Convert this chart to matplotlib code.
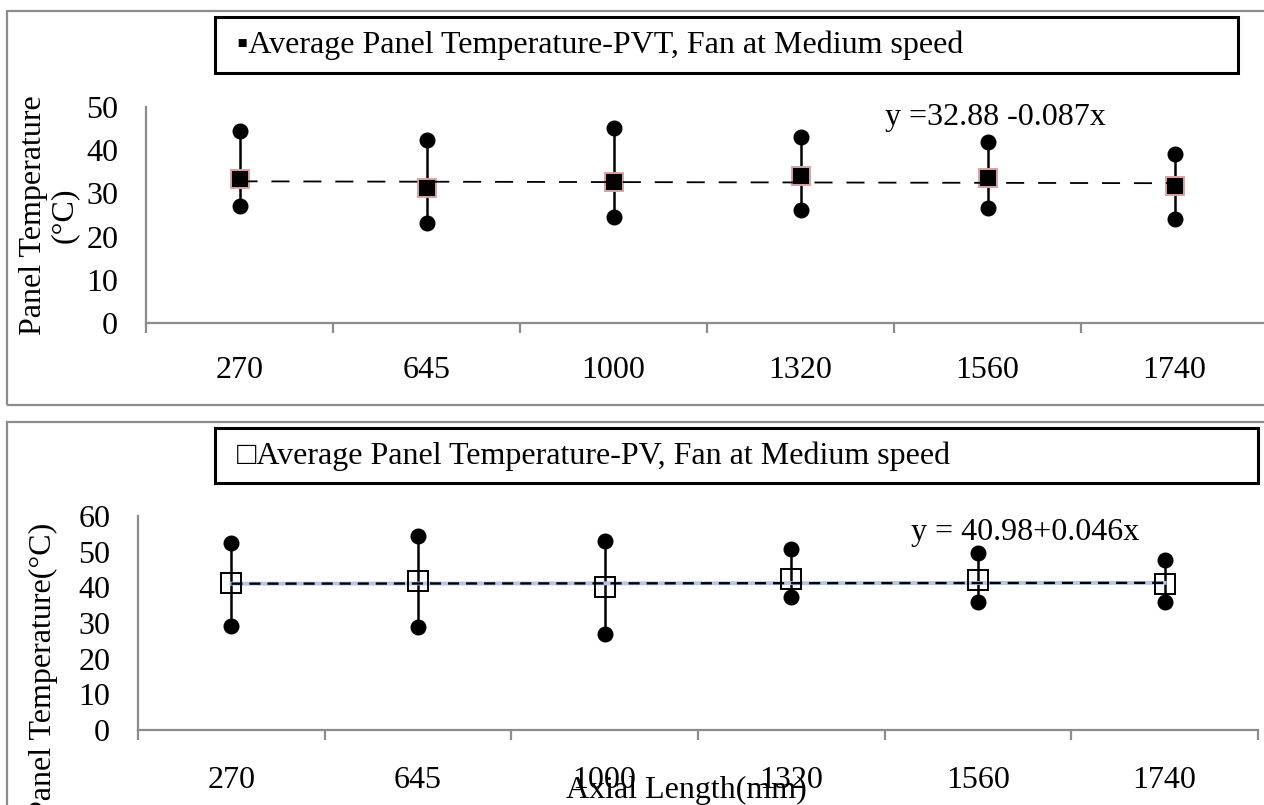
import matplotlib
matplotlib.use("Agg")
import matplotlib.pyplot as plt
from matplotlib.patches import Rectangle

plt.rcParams['font.family'] = ['Liberation Serif', 'DejaVu Serif', 'DejaVu Sans']
plt.rcParams['lines.scale_dashes'] = False

# ---------------- data ----------------
categories = ['270', '645', '1000', '1320', '1560', '1740']

pvt_avg = [33.3, 31.3, 32.7, 34.0, 33.5, 31.6]
pvt_max = [44.4, 42.4, 45.1, 43.1, 42.0, 39.1]
pvt_min = [27.1, 23.2, 24.6, 26.2, 26.7, 24.1]

pv_avg = [41.1, 41.8, 40.2, 42.3, 42.0, 40.8]
pv_max = [52.5, 54.4, 53.0, 50.7, 49.5, 47.7]
pv_min = [29.2, 28.8, 26.8, 37.2, 35.9, 35.9]

pvt_trend = (32.88, -0.087)   # intercept, slope (x = point number 1..6)
pv_trend = (40.98, 0.046)

pvt_label = "\u25aaAverage Panel Temperature-PVT, Fan at Medium speed"
pv_label = "\u25a1Average Panel Temperature-PV, Fan at Medium speed"
pvt_eq = "y =32.88 -0.087x"
pv_eq = "y = 40.98+0.046x"

W, H = 1264, 805
fig = plt.figure(figsize=(W / 100, H / 100), dpi=100)

GRAY = '#8c8c8c'
FS = 23


def fx(px):
    return px / W


def fy(py):
    return 1 - py / H


def frame(x0, y0, x1, y1, color, lw):
    r = Rectangle((fx(x0), fy(y1)), fx(x1) - fx(x0), fy(y0) - fy(y1),
                  transform=fig.transFigure, fill=False, edgecolor=color,
                  linewidth=lw, clip_on=False)
    fig.add_artist(r)


# outer chart frames
frame(7, 11, 1275, 405, GRAY, 1.6)
frame(7, 422, 1275, 820, GRAY, 1.6)
# legend boxes
frame(215, 17, 1238, 73, 'black', 2.2)
frame(215, 428, 1258, 483, 'black', 2.2)
fig.text(fx(237), fy(45), pvt_label, fontsize=FS, ha='left', va='center')
fig.text(fx(237), fy(456), pv_label, fontsize=FS, ha='left', va='center')


def make_axes(rect, ymax, step, xpad):
    ax = fig.add_axes(rect)
    ax.set_facecolor('none')
    for s in ['top', 'right']:
        ax.spines[s].set_visible(False)
    for s in ['left', 'bottom']:
        ax.spines[s].set_color(GRAY)
        ax.spines[s].set_linewidth(1.6)
    ax.set_xlim(-0.5, 5.5)
    ax.set_ylim(0, ymax)
    ax.set_xticks(range(len(categories)))
    ax.set_xticklabels(categories)
    ax.set_xticks([i - 0.5 for i in range(len(categories) + 1)], minor=True)
    ax.tick_params(axis='x', which='major', length=0, labelsize=FS, pad=xpad)
    ax.tick_params(axis='x', which='minor', length=7, width=1.6, color=GRAY, direction='out')
    ax.set_yticks(range(0, ymax + 1, step))
    ax.tick_params(axis='y', length=0, labelsize=FS, pad=20)
    return ax


def plot_range(ax, avg, mx, mn, trend, top):
    xs = list(range(len(categories)))
    for i in xs:
        ax.plot([i, i], [mn[i], mx[i]], color='black', lw=1.8, zorder=3)
    ax.plot(xs, mx, 'o', ls='none', color='black', ms=10.5, zorder=4, clip_on=False)
    ax.plot(xs, mn, 'o', ls='none', color='black', ms=10.5, zorder=4, clip_on=False)
    a, b = trend
    tx = [xs[0], xs[-1]]
    ty = [a + b * (xs[0] + 1), a + b * (xs[-1] + 1)]
    if top:
        ax.plot(xs, avg, 's', ls='none', mfc='black', mec='#d8a3a3', mew=1.4,
                ms=13, zorder=5)
        ax.plot(tx, ty, color='black', lw=1.3, dashes=(13, 10), zorder=6)
    else:
        ax.plot(tx, ty, color='#b4c7e7', lw=2.8, zorder=5)
        ax.plot(tx, ty, color='black', lw=1.7, dashes=(8, 5), zorder=6)
        ax.plot(xs, avg, 's', ls='none', mfc='none', mec='black', mew=1.4,
                ms=14, zorder=7)


# top panel
ax1 = make_axes([fx(146), fy(323), fx(1268) - fx(146), fy(107) - fy(323)], 50, 10, 24)
plot_range(ax1, pvt_avg, pvt_max, pvt_min, pvt_trend, True)
ax1.text(4.04, 47.5, pvt_eq, fontsize=FS, ha='center', va='center')
fig.text(fx(49), fy(215), "Panel Temperature\n(\u00b0C)", rotation=90, fontsize=FS,
         ha='center', va='center', multialignment='center', linespacing=1.1)

# bottom panel
ax2 = make_axes([fx(138), fy(730), fx(1258) - fx(138), fy(516) - fy(730)], 60, 10, 26)
plot_range(ax2, pv_avg, pv_max, pv_min, pv_trend, False)
ax2.text(4.25, 55.5, pv_eq, fontsize=FS, ha='center', va='center')
fig.text(fx(43), fy(670), "Panel Temperature(\u00b0C)", rotation=90, fontsize=FS,
         ha='center', va='center')
fig.text(fx(686), fy(790), "Axial Length(mm)", fontsize=FS, ha='center', va='center')

fig.savefig('out.png', dpi=100)
